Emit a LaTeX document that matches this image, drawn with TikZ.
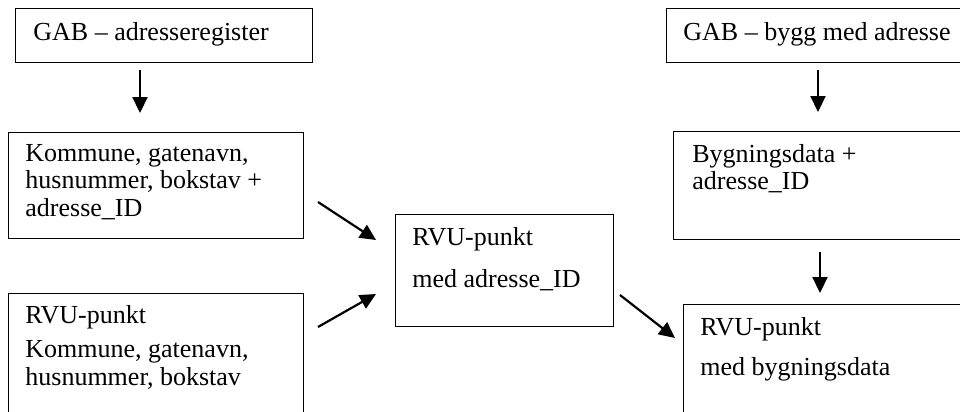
\documentclass[tikz,border=0pt]{standalone}
\usepackage{fontspec}
\setmainfont{Liberation Serif}
\usetikzlibrary{arrows.meta}
\tikzset{
  box/.style={draw, line width=0.7pt, anchor=north west, inner sep=0pt},
  txt/.style={anchor=north west, inner sep=0pt, align=left,
    font=\fontsize{13pt}{13.75pt}\selectfont},
  flow/.style={-{Triangle[length=8pt,width=7.5pt]}, line width=1.1pt},
}
\begin{document}
\begin{tikzpicture}[x=0.5pt, y=-0.5pt]
\useasboundingbox (0,0) rectangle (960,412);
\clip (0,0) rectangle (960,412);
% boxes
\node [box, minimum width=148.5pt, minimum height=27pt] (adrreg) at (15,8) {};
\node [box, minimum width=147.5pt, minimum height=53pt] (adrdata) at (8,132) {};
\node [box, minimum width=147.5pt, minimum height=73.5pt] (rvuadr) at (8,293) {};
\node [box, minimum width=109pt, minimum height=56pt] (rvuid) at (395,214) {};
\node [box, minimum width=167pt, minimum height=27pt] (byggreg) at (666,8) {};
\node [box, minimum width=163.5pt, minimum height=54pt] (byggdata) at (673,131) {};
\node [box, minimum width=158.5pt, minimum height=68pt] (rvubygg) at (683,304) {};
% texts
\node [txt] (adrreg-t) at (33,22) {GAB -- adresseregister};
\node [txt] (adrdata-t) at (25,144) {Kommune, gatenavn,\\husnummer, bokstav +\\adresse\_ID};
\node [txt] (rvuadr-t) at (25,305) {RVU-punkt\\[3.5pt]Kommune, gatenavn,\\husnummer, bokstav};
\node [txt] (rvuid-t) at (412,227) {RVU-punkt\\[7.25pt]med adresse\_ID};
\node [txt] (byggreg-t) at (683,22) {GAB -- bygg med adresse};
\node [txt] (byggdata-t) at (692,144) {Bygningsdata +\\adresse\_ID};
\node [txt] (rvubygg-t) at (700,317) {RVU-punkt\\[6.25pt]med bygningsdata};
% arrow ends
\node [] (0) at (140,70) {};
\node [] (1) at (140,113) {};
\node [] (2) at (818,70) {};
\node [] (3) at (818,112) {};
\node [] (4) at (820,252) {};
\node [] (5) at (820,293) {};
\node [] (6) at (318,202) {};
\node [] (7) at (376,240) {};
\node [] (8) at (318,327) {};
\node [] (9) at (376,294) {};
\node [] (10) at (620,295) {};
\node [] (11) at (675,338) {};
\draw [flow] (0.center) to (1.center);
\draw [flow] (2.center) to (3.center);
\draw [flow] (4.center) to (5.center);
\draw [flow] (6.center) to (7.center);
\draw [flow] (8.center) to (9.center);
\draw [flow] (10.center) to (11.center);
\end{tikzpicture}
\end{document}
